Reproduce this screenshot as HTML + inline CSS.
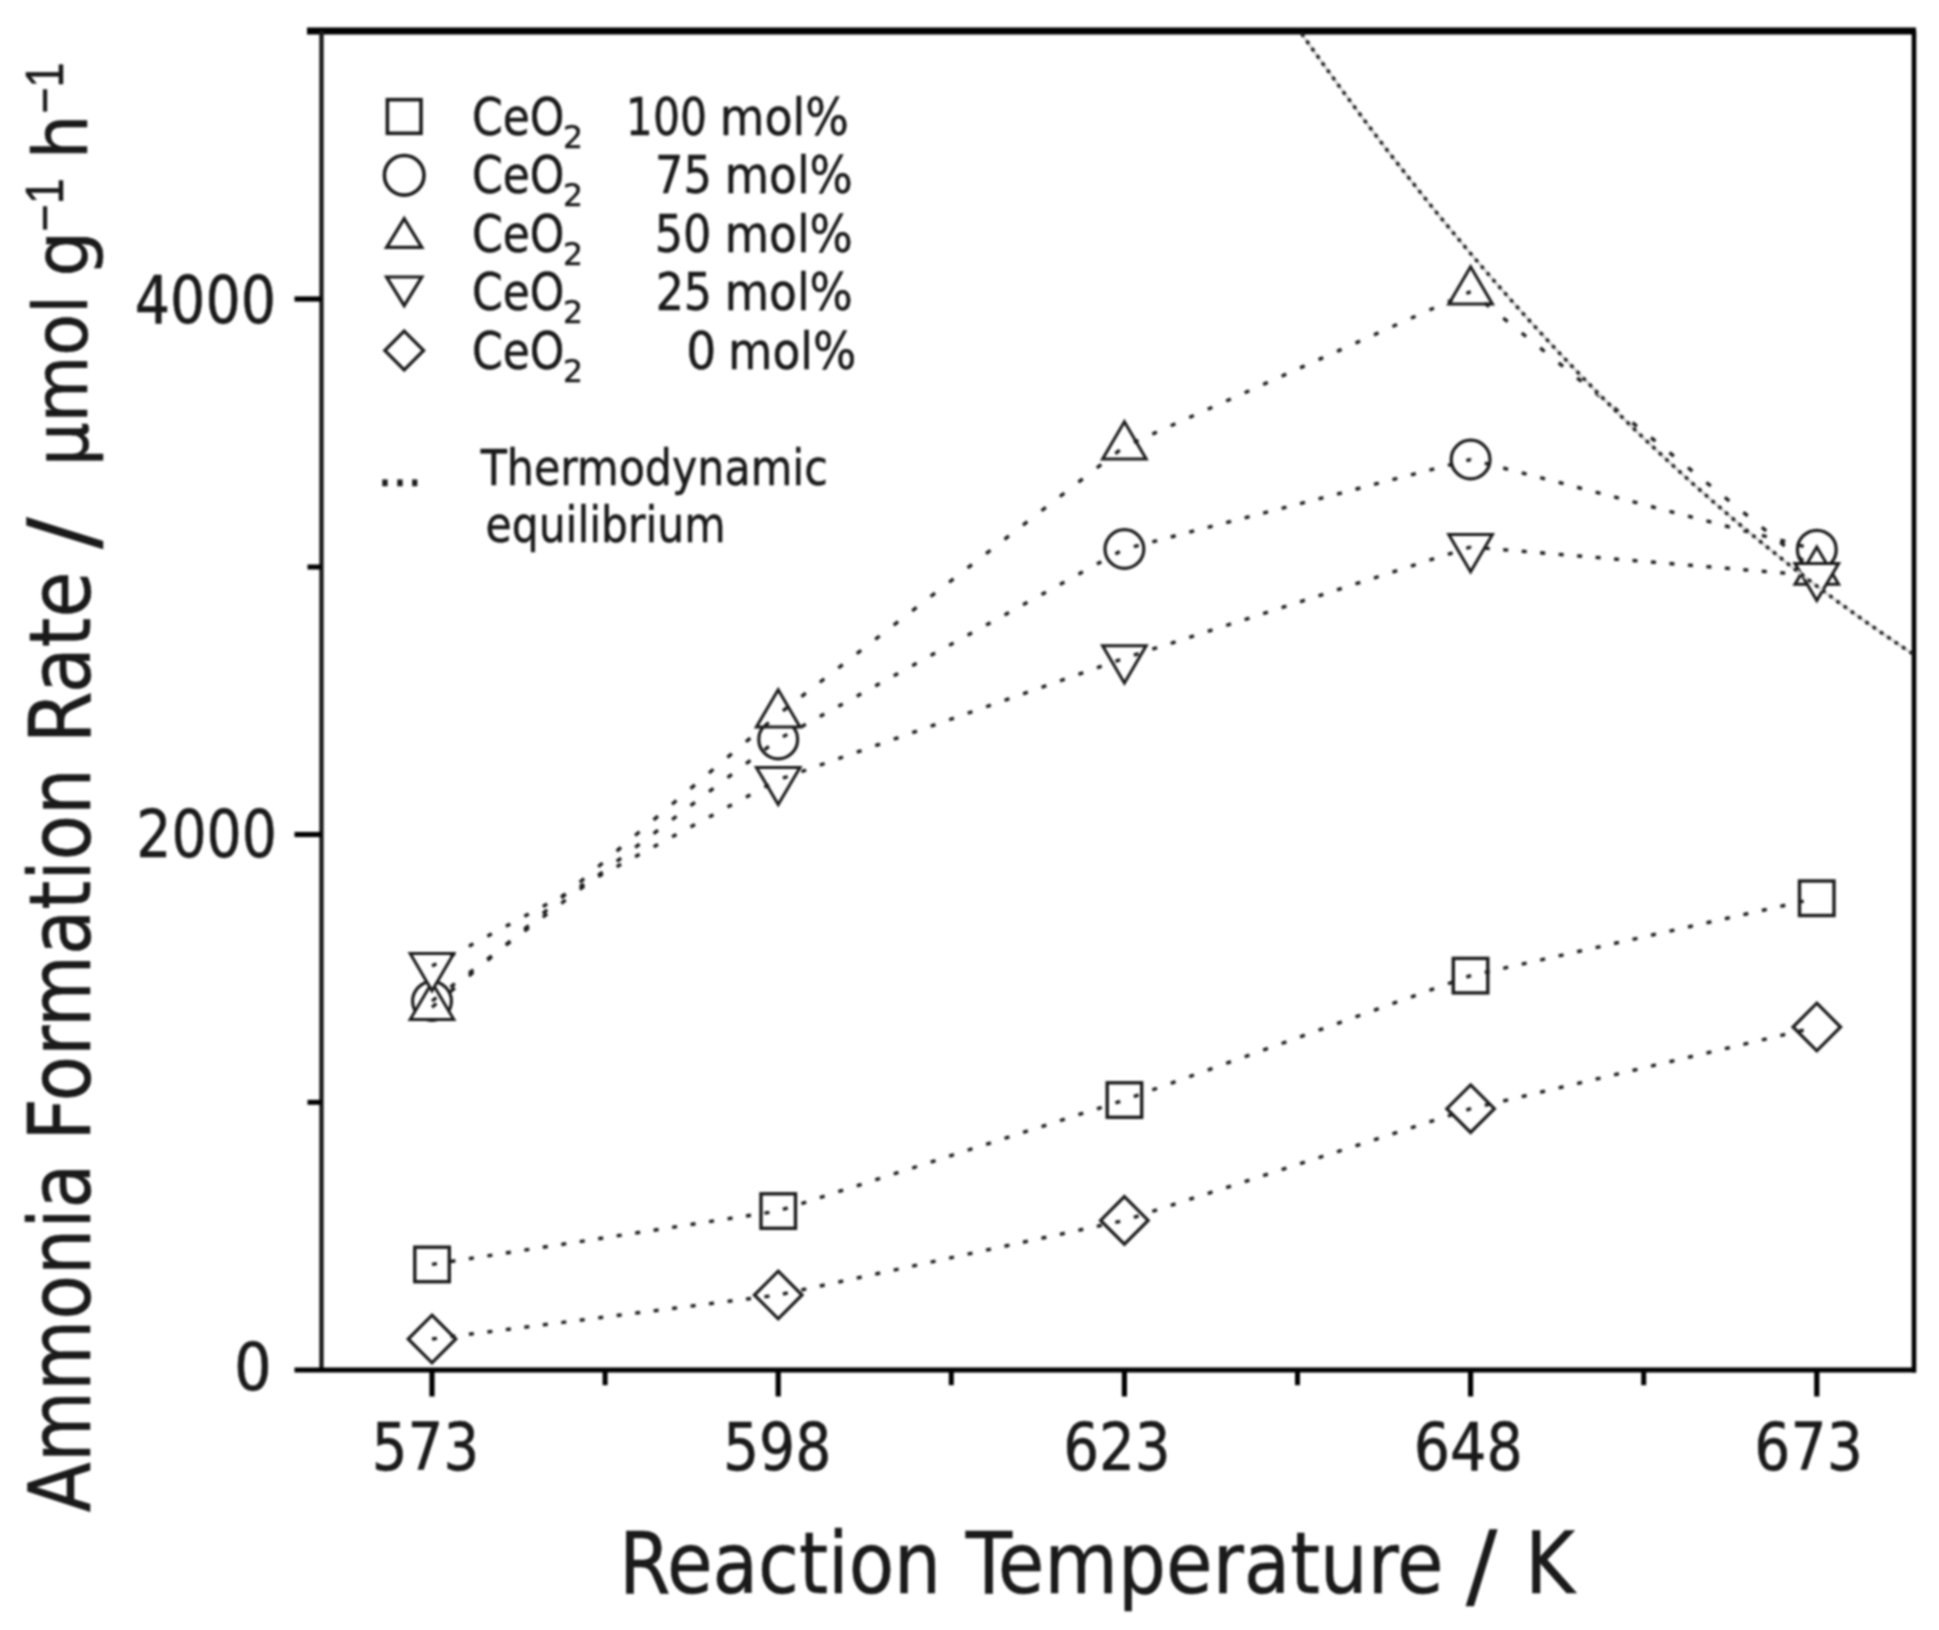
<!DOCTYPE html>
<html lang="en"><head><meta charset="utf-8"><title>Ammonia formation rate vs reaction temperature</title><style>html,body{margin:0;padding:0;background:#fff}svg{display:block;filter:blur(1px)}</style></head><body>
<svg width="1939" height="1630" viewBox="0 0 1939 1630">
<rect x="0" y="0" width="1939" height="1630" fill="#fff"/>
<g stroke="#1a1a1a" fill="none" stroke-linecap="butt">
<line x1="307" y1="31.0" x2="1916" y2="31.0" stroke-width="7" stroke="#000"/>
<line x1="321.5" y1="31.0" x2="321.5" y2="1372.0" stroke-width="4.4"/>
<line x1="1914.0" y1="31.0" x2="1914.0" y2="1372.4" stroke-width="4.6" stroke="#000"/>
<line x1="294.5" y1="1370.0" x2="1916" y2="1370.0" stroke-width="5" stroke="#000"/>
<line x1="294.5" y1="299.0" x2="321.5" y2="299.0" stroke-width="5.2" stroke="#000"/>
<line x1="294.5" y1="834.5" x2="321.5" y2="834.5" stroke-width="5.2" stroke="#000"/>
<line x1="307.5" y1="567.0" x2="321.5" y2="567.0" stroke-width="5" stroke="#000"/>
<line x1="307.5" y1="1102.3" x2="321.5" y2="1102.3" stroke-width="5" stroke="#000"/>
<line x1="432.0" y1="1370.0" x2="432.0" y2="1396.5" stroke-width="5.2" stroke="#000"/>
<line x1="778.2" y1="1370.0" x2="778.2" y2="1396.5" stroke-width="5.2" stroke="#000"/>
<line x1="1124.4" y1="1370.0" x2="1124.4" y2="1396.5" stroke-width="5.2" stroke="#000"/>
<line x1="1470.6" y1="1370.0" x2="1470.6" y2="1396.5" stroke-width="5.2" stroke="#000"/>
<line x1="1816.8" y1="1370.0" x2="1816.8" y2="1396.5" stroke-width="5.2" stroke="#000"/>
<line x1="605.1" y1="1370.0" x2="605.1" y2="1385.2" stroke-width="5" stroke="#000"/>
<line x1="951.3" y1="1370.0" x2="951.3" y2="1385.2" stroke-width="5" stroke="#000"/>
<line x1="1297.5" y1="1370.0" x2="1297.5" y2="1385.2" stroke-width="5" stroke="#000"/>
<line x1="1643.7" y1="1370.0" x2="1643.7" y2="1385.2" stroke-width="5" stroke="#000"/>
</g>
<g fill="#fff" stroke="#1a1a1a" stroke-linejoin="miter">
<rect x="414.8" y="1247.2" width="34.5" height="34.5" stroke-width="3.4"/>
<rect x="761.0" y="1193.8" width="34.5" height="34.5" stroke-width="3.4"/>
<rect x="1107.2" y="1082.8" width="34.5" height="34.5" stroke-width="3.4"/>
<rect x="1453.3" y="958.4" width="34.5" height="34.5" stroke-width="3.4"/>
<rect x="1799.5" y="881.0" width="34.5" height="34.5" stroke-width="3.4"/>
</g>
<g fill="#fff" stroke="#1a1a1a" stroke-linejoin="miter">
<circle cx="432.0" cy="1001.0" r="19.4" stroke-width="3.2"/>
<circle cx="778.2" cy="739.4" r="19.4" stroke-width="3.2"/>
<circle cx="1124.4" cy="549.0" r="19.4" stroke-width="3.2"/>
<circle cx="1470.6" cy="459.5" r="19.4" stroke-width="3.2"/>
<circle cx="1816.8" cy="549.7" r="19.4" stroke-width="3.2"/>
</g>
<g fill="#fff" stroke="#1a1a1a" stroke-linejoin="miter">
<polygon points="432.0,982.4 453.8,1019.6 410.2,1019.6" stroke-width="3.0"/>
<polygon points="778.2,689.7 800.0,726.9 756.4,726.9" stroke-width="3.0"/>
<polygon points="1124.4,421.8 1146.2,459.0 1102.6,459.0" stroke-width="3.0"/>
<polygon points="1470.6,266.8 1492.4,304.0 1448.8,304.0" stroke-width="3.0"/>
<polygon points="1816.8,547.0 1838.6,584.2 1795.0,584.2" stroke-width="3.0"/>
</g>
<g fill="#fff" stroke="#1a1a1a" stroke-linejoin="miter">
<polygon points="410.2,953.6 453.8,953.6 432.0,990.8" stroke-width="3.0"/>
<polygon points="756.4,767.4 800.0,767.4 778.2,804.6" stroke-width="3.0"/>
<polygon points="1102.6,645.8 1146.2,645.8 1124.4,683.0" stroke-width="3.0"/>
<polygon points="1448.8,534.6 1492.4,534.6 1470.6,571.8" stroke-width="3.0"/>
<polygon points="1795.0,563.4 1838.6,563.4 1816.8,600.6" stroke-width="3.0"/>
</g>
<g fill="#fff" stroke="#1a1a1a" stroke-linejoin="miter">
<polygon points="432.0,1315.2 455.8,1339.0 432.0,1362.8 408.2,1339.0" stroke-width="3.2"/>
<polygon points="778.2,1271.2 802.0,1295.0 778.2,1318.8 754.4,1295.0" stroke-width="3.2"/>
<polygon points="1124.4,1196.6 1148.2,1220.4 1124.4,1244.2 1100.6,1220.4" stroke-width="3.2"/>
<polygon points="1470.6,1084.9 1494.4,1108.7 1470.6,1132.5 1446.8,1108.7" stroke-width="3.2"/>
<polygon points="1816.8,1003.2 1840.6,1027.0 1816.8,1050.8 1793.0,1027.0" stroke-width="3.2"/>
</g>
<g fill="none" stroke="#1a1a1a" stroke-width="3.4">
<line x1="432.0" y1="1264.4" x2="778.2" y2="1211.0" stroke-dasharray="5.00 13.69" stroke-dashoffset="0.00"/>
<line x1="778.2" y1="1211.0" x2="1124.4" y2="1100.0" stroke-dasharray="5.00 14.40" stroke-dashoffset="14.43"/>
<line x1="1124.4" y1="1100.0" x2="1470.6" y2="975.6" stroke-dasharray="5.00 14.63" stroke-dashoffset="9.57"/>
<line x1="1470.6" y1="975.6" x2="1816.8" y2="898.2" stroke-dasharray="5.00 13.93" stroke-dashoffset="4.39"/>
<line x1="432.0" y1="1001.0" x2="778.2" y2="739.4" stroke-dasharray="5.51 17.64" stroke-dashoffset="0.00"/>
<line x1="778.2" y1="739.4" x2="1124.4" y2="549.0" stroke-dasharray="5.02 16.06" stroke-dashoffset="15.68"/>
<line x1="1124.4" y1="549.0" x2="1470.6" y2="459.5" stroke-dasharray="5.00 14.08" stroke-dashoffset="9.31"/>
<line x1="1470.6" y1="459.5" x2="1816.8" y2="549.7" stroke-dasharray="5.00 14.09" stroke-dashoffset="4.42"/>
<line x1="432.0" y1="1007.2" x2="778.2" y2="714.5" stroke-dasharray="5.76 18.42" stroke-dashoffset="0.00"/>
<line x1="778.2" y1="714.5" x2="1124.4" y2="446.6" stroke-dasharray="5.56 17.79" stroke-dashoffset="17.37"/>
<line x1="1124.4" y1="446.6" x2="1470.6" y2="291.6" stroke-dasharray="5.00 15.24" stroke-dashoffset="9.87"/>
<line x1="1470.6" y1="291.6" x2="1816.8" y2="571.8" stroke-dasharray="5.66 18.10" stroke-dashoffset="5.51"/>
<line x1="432.0" y1="966.0" x2="778.2" y2="779.8" stroke-dasharray="5.00 15.97" stroke-dashoffset="0.00"/>
<line x1="778.2" y1="779.8" x2="1124.4" y2="658.2" stroke-dasharray="5.00 14.58" stroke-dashoffset="14.56"/>
<line x1="1124.4" y1="658.2" x2="1470.6" y2="547.0" stroke-dasharray="5.00 14.40" stroke-dashoffset="9.46"/>
<line x1="1470.6" y1="547.0" x2="1816.8" y2="575.8" stroke-dasharray="5.00 13.53" stroke-dashoffset="4.29"/>
<line x1="432.0" y1="1339.0" x2="778.2" y2="1295.0" stroke-dasharray="5.00 13.62" stroke-dashoffset="0.00"/>
<line x1="778.2" y1="1295.0" x2="1124.4" y2="1220.4" stroke-dasharray="5.00 13.89" stroke-dashoffset="14.06"/>
<line x1="1124.4" y1="1220.4" x2="1470.6" y2="1108.7" stroke-dasharray="5.00 14.41" stroke-dashoffset="9.47"/>
<line x1="1470.6" y1="1108.7" x2="1816.8" y2="1027.0" stroke-dasharray="5.00 13.98" stroke-dashoffset="4.40"/>
</g>
<path d="M1301.5,33.6 L1311.9,48.2 L1322.2,62.7 L1332.6,77.1 L1342.9,91.3 L1353.3,105.3 L1363.6,119.2 L1374.0,132.9 L1384.3,146.5 L1394.7,159.9 L1405.1,173.1 L1415.4,186.2 L1425.8,199.2 L1436.1,212.0 L1446.5,224.6 L1456.8,237.1 L1467.2,249.5 L1477.6,261.7 L1487.9,273.7 L1498.3,285.6 L1508.6,297.4 L1519.0,309.0 L1529.3,320.5 L1539.7,331.8 L1550.0,343.0 L1560.4,354.1 L1570.8,365.0 L1581.1,375.8 L1591.5,386.5 L1601.8,397.0 L1612.2,407.3 L1622.5,417.6 L1632.9,427.7 L1643.2,437.7 L1653.6,447.5 L1664.0,457.2 L1674.3,466.8 L1684.7,476.3 L1695.0,485.6 L1705.4,494.8 L1715.7,503.9 L1726.1,512.8 L1736.4,521.7 L1746.8,530.4 L1757.2,538.9 L1767.5,547.4 L1777.9,555.7 L1788.2,564.0 L1798.6,572.1 L1808.9,580.1 L1819.3,587.9 L1829.7,595.7 L1840.0,603.3 L1850.4,610.8 L1860.7,618.2 L1871.1,625.5 L1881.4,632.7 L1891.8,639.8 L1902.1,646.8 L1912.5,653.6" fill="none" stroke="#d6d6d6" stroke-width="2.6"/>
<path d="M1301.5,33.6 L1311.9,48.2 L1322.2,62.7 L1332.6,77.1 L1342.9,91.3 L1353.3,105.3 L1363.6,119.2 L1374.0,132.9 L1384.3,146.5 L1394.7,159.9 L1405.1,173.1 L1415.4,186.2 L1425.8,199.2 L1436.1,212.0 L1446.5,224.6 L1456.8,237.1 L1467.2,249.5 L1477.6,261.7 L1487.9,273.7 L1498.3,285.6 L1508.6,297.4 L1519.0,309.0 L1529.3,320.5 L1539.7,331.8 L1550.0,343.0 L1560.4,354.1 L1570.8,365.0 L1581.1,375.8 L1591.5,386.5 L1601.8,397.0 L1612.2,407.3 L1622.5,417.6 L1632.9,427.7 L1643.2,437.7 L1653.6,447.5 L1664.0,457.2 L1674.3,466.8 L1684.7,476.3 L1695.0,485.6 L1705.4,494.8 L1715.7,503.9 L1726.1,512.8 L1736.4,521.7 L1746.8,530.4 L1757.2,538.9 L1767.5,547.4 L1777.9,555.7 L1788.2,564.0 L1798.6,572.1 L1808.9,580.1 L1819.3,587.9 L1829.7,595.7 L1840.0,603.3 L1850.4,610.8 L1860.7,618.2 L1871.1,625.5 L1881.4,632.7 L1891.8,639.8 L1902.1,646.8 L1912.5,653.6" fill="none" stroke="#1a1a1a" stroke-width="3.5" stroke-dasharray="3.7 5.2"/>
<g fill="none" stroke="#1a1a1a" stroke-linejoin="miter">
<rect x="387.4" y="99.7" width="33.6" height="33.6" stroke-width="3.6"/>
<circle cx="404.2" cy="175.3" r="19.8" stroke-width="3.6"/>
<polygon points="404.2,218.6 421.8,247.3 386.59999999999997,247.3" stroke-width="3.2"/>
<polygon points="386.59999999999997,277.0 421.8,277.0 404.2,305.7" stroke-width="3.2"/>
<polygon points="404.2,331.1 423.6,350.5 404.2,369.9 384.8,350.5" stroke-width="3.2"/>
</g>
<g fill="#1a1a1a" stroke="#1a1a1a" stroke-width="0.5">
<text transform="translate(134.80 323.40) scale(0.9347 1)" font-size="66" font-family="&quot;DejaVu Sans Condensed&quot;, &quot;DejaVu Sans&quot;, &quot;Liberation Sans&quot;, sans-serif" font-stretch="condensed">4000</text>
<text transform="translate(136.17 857.00) scale(0.9322 1)" font-size="66" font-family="&quot;DejaVu Sans Condensed&quot;, &quot;DejaVu Sans&quot;, &quot;Liberation Sans&quot;, sans-serif" font-stretch="condensed">2000</text>
<text transform="translate(234.00 1389.80) scale(1.0 1)" font-size="66" font-family="&quot;DejaVu Sans Condensed&quot;, &quot;DejaVu Sans&quot;, &quot;Liberation Sans&quot;, sans-serif" font-stretch="condensed">0</text>
<text transform="translate(371.86 1470.40) scale(0.9471 1)" font-size="66" font-family="&quot;DejaVu Sans Condensed&quot;, &quot;DejaVu Sans&quot;, &quot;Liberation Sans&quot;, sans-serif" font-stretch="condensed">573</text>
<text transform="translate(722.91 1470.40) scale(0.9577 1)" font-size="66" font-family="&quot;DejaVu Sans Condensed&quot;, &quot;DejaVu Sans&quot;, &quot;Liberation Sans&quot;, sans-serif" font-stretch="condensed">598</text>
<text transform="translate(1063.21 1470.40) scale(0.9486 1)" font-size="66" font-family="&quot;DejaVu Sans Condensed&quot;, &quot;DejaVu Sans&quot;, &quot;Liberation Sans&quot;, sans-serif" font-stretch="condensed">623</text>
<text transform="translate(1413.75 1470.40) scale(0.9629 1)" font-size="66" font-family="&quot;DejaVu Sans Condensed&quot;, &quot;DejaVu Sans&quot;, &quot;Liberation Sans&quot;, sans-serif" font-stretch="condensed">648</text>
<text transform="translate(1754.37 1470.40) scale(0.9571 1)" font-size="66" font-family="&quot;DejaVu Sans Condensed&quot;, &quot;DejaVu Sans&quot;, &quot;Liberation Sans&quot;, sans-serif" font-stretch="condensed">673</text>
<text transform="translate(619.00 1593.30) scale(0.9714 1)" font-size="85" font-family="&quot;DejaVu Sans Condensed&quot;, &quot;DejaVu Sans&quot;, &quot;Liberation Sans&quot;, sans-serif" font-stretch="condensed">Reaction</text>
<text transform="translate(965.70 1593.30) scale(0.9902 1)" font-size="85" font-family="&quot;DejaVu Sans Condensed&quot;, &quot;DejaVu Sans&quot;, &quot;Liberation Sans&quot;, sans-serif" font-stretch="condensed">Temperature</text>
<text transform="translate(1466.00 1597.40) scale(1.1071 1)" font-size="93" font-family="&quot;DejaVu Sans Condensed&quot;, &quot;DejaVu Sans&quot;, &quot;Liberation Sans&quot;, sans-serif" font-stretch="condensed">/</text>
<text transform="translate(1525.03 1593.30) scale(0.9955 1)" font-size="85" font-family="&quot;DejaVu Sans Condensed&quot;, &quot;DejaVu Sans&quot;, &quot;Liberation Sans&quot;, sans-serif" font-stretch="condensed">K</text>
<text transform="translate(89.70 1512.26) rotate(-90) scale(0.956 1)" font-size="85" font-family="&quot;DejaVu Sans Condensed&quot;, &quot;DejaVu Sans&quot;, &quot;Liberation Sans&quot;, sans-serif" font-stretch="condensed">Ammonia</text>
<text transform="translate(89.70 1140.77) rotate(-90) scale(0.9667 1)" font-size="85" font-family="&quot;DejaVu Sans Condensed&quot;, &quot;DejaVu Sans&quot;, &quot;Liberation Sans&quot;, sans-serif" font-stretch="condensed">Formation</text>
<text transform="translate(89.70 743.58) rotate(-90) scale(0.9823 1)" font-size="85" font-family="&quot;DejaVu Sans Condensed&quot;, &quot;DejaVu Sans&quot;, &quot;Liberation Sans&quot;, sans-serif" font-stretch="condensed">Rate</text>
<text transform="translate(93.80 549.00) rotate(-90) scale(1.1214 1)" font-size="93" font-family="&quot;DejaVu Sans Condensed&quot;, &quot;DejaVu Sans&quot;, &quot;Liberation Sans&quot;, sans-serif" font-stretch="condensed">/</text>
<text transform="translate(86.60 466.09) rotate(-90) scale(1.0147 1)" font-size="75" font-family="&quot;DejaVu Sans Condensed&quot;, &quot;DejaVu Sans&quot;, &quot;Liberation Sans&quot;, sans-serif" font-stretch="condensed">µmol</text>
<text transform="translate(86.60 276.69) rotate(-90) scale(1.0727 1)" font-size="75" font-family="&quot;DejaVu Sans Condensed&quot;, &quot;DejaVu Sans&quot;, &quot;Liberation Sans&quot;, sans-serif" font-stretch="condensed">g</text>
<text transform="translate(63.30 231.61) rotate(-90) scale(0.8696 1)" font-size="54" font-family="&quot;Liberation Sans&quot;, &quot;DejaVu Sans&quot;, sans-serif">−1</text>
<text transform="translate(86.60 159.37) rotate(-90) scale(1.0452 1)" font-size="75" font-family="&quot;DejaVu Sans Condensed&quot;, &quot;DejaVu Sans&quot;, &quot;Liberation Sans&quot;, sans-serif" font-stretch="condensed">h</text>
<text transform="translate(63.30 113.59) rotate(-90) scale(0.8286 1)" font-size="54" font-family="&quot;Liberation Sans&quot;, &quot;DejaVu Sans&quot;, sans-serif">−1</text>
<text transform="translate(480.70 485.00) scale(0.9418 1)" font-size="50.5" font-family="&quot;DejaVu Sans Condensed&quot;, &quot;DejaVu Sans&quot;, &quot;Liberation Sans&quot;, sans-serif" font-stretch="condensed">Thermodynamic</text>
<text transform="translate(485.53 542.40) scale(0.9355 1)" font-size="50.5" font-family="&quot;DejaVu Sans Condensed&quot;, &quot;DejaVu Sans&quot;, &quot;Liberation Sans&quot;, sans-serif" font-stretch="condensed">equilibrium</text>
<text transform="translate(377.55 485.80) scale(1.0303 1)" font-size="50.5" font-family="&quot;DejaVu Sans Condensed&quot;, &quot;DejaVu Sans&quot;, &quot;Liberation Sans&quot;, sans-serif" font-stretch="condensed">...</text>
<text transform="translate(472.08 135.00) scale(0.9398 1)" font-size="52" font-family="&quot;DejaVu Sans Condensed&quot;, &quot;DejaVu Sans&quot;, &quot;Liberation Sans&quot;, sans-serif" font-stretch="condensed">CeO</text>
<text transform="translate(562.98 148.30) scale(1.1077 1)" font-size="31.5" font-family="&quot;DejaVu Sans Condensed&quot;, &quot;DejaVu Sans&quot;, &quot;Liberation Sans&quot;, sans-serif" font-stretch="condensed">2</text>
<text transform="translate(625.86 135.00) scale(0.9086 1)" font-size="52" font-family="&quot;DejaVu Sans Condensed&quot;, &quot;DejaVu Sans&quot;, &quot;Liberation Sans&quot;, sans-serif" font-stretch="condensed">100</text>
<text transform="translate(719.77 135.00) scale(0.9816 1)" font-size="52" font-family="&quot;DejaVu Sans Condensed&quot;, &quot;DejaVu Sans&quot;, &quot;Liberation Sans&quot;, sans-serif" font-stretch="condensed">mol%</text>
<text transform="translate(472.08 193.00) scale(0.9398 1)" font-size="52" font-family="&quot;DejaVu Sans Condensed&quot;, &quot;DejaVu Sans&quot;, &quot;Liberation Sans&quot;, sans-serif" font-stretch="condensed">CeO</text>
<text transform="translate(562.98 206.30) scale(1.1077 1)" font-size="31.5" font-family="&quot;DejaVu Sans Condensed&quot;, &quot;DejaVu Sans&quot;, &quot;Liberation Sans&quot;, sans-serif" font-stretch="condensed">2</text>
<text transform="translate(655.08 193.00) scale(0.9549 1)" font-size="52" font-family="&quot;DejaVu Sans Condensed&quot;, &quot;DejaVu Sans&quot;, &quot;Liberation Sans&quot;, sans-serif" font-stretch="condensed">75</text>
<text transform="translate(724.71 193.00) scale(0.9736 1)" font-size="52" font-family="&quot;DejaVu Sans Condensed&quot;, &quot;DejaVu Sans&quot;, &quot;Liberation Sans&quot;, sans-serif" font-stretch="condensed">mol%</text>
<text transform="translate(472.08 251.80) scale(0.9398 1)" font-size="52" font-family="&quot;DejaVu Sans Condensed&quot;, &quot;DejaVu Sans&quot;, &quot;Liberation Sans&quot;, sans-serif" font-stretch="condensed">CeO</text>
<text transform="translate(562.98 265.10) scale(1.1077 1)" font-size="31.5" font-family="&quot;DejaVu Sans Condensed&quot;, &quot;DejaVu Sans&quot;, &quot;Liberation Sans&quot;, sans-serif" font-stretch="condensed">2</text>
<text transform="translate(654.69 251.80) scale(0.9519 1)" font-size="52" font-family="&quot;DejaVu Sans Condensed&quot;, &quot;DejaVu Sans&quot;, &quot;Liberation Sans&quot;, sans-serif" font-stretch="condensed">50</text>
<text transform="translate(724.71 251.80) scale(0.9736 1)" font-size="52" font-family="&quot;DejaVu Sans Condensed&quot;, &quot;DejaVu Sans&quot;, &quot;Liberation Sans&quot;, sans-serif" font-stretch="condensed">mol%</text>
<text transform="translate(472.08 310.00) scale(0.9398 1)" font-size="52" font-family="&quot;DejaVu Sans Condensed&quot;, &quot;DejaVu Sans&quot;, &quot;Liberation Sans&quot;, sans-serif" font-stretch="condensed">CeO</text>
<text transform="translate(562.98 323.30) scale(1.1077 1)" font-size="31.5" font-family="&quot;DejaVu Sans Condensed&quot;, &quot;DejaVu Sans&quot;, &quot;Liberation Sans&quot;, sans-serif" font-stretch="condensed">2</text>
<text transform="translate(655.66 310.00) scale(0.9481 1)" font-size="52" font-family="&quot;DejaVu Sans Condensed&quot;, &quot;DejaVu Sans&quot;, &quot;Liberation Sans&quot;, sans-serif" font-stretch="condensed">25</text>
<text transform="translate(724.71 310.00) scale(0.9736 1)" font-size="52" font-family="&quot;DejaVu Sans Condensed&quot;, &quot;DejaVu Sans&quot;, &quot;Liberation Sans&quot;, sans-serif" font-stretch="condensed">mol%</text>
<text transform="translate(472.08 368.50) scale(0.9398 1)" font-size="52" font-family="&quot;DejaVu Sans Condensed&quot;, &quot;DejaVu Sans&quot;, &quot;Liberation Sans&quot;, sans-serif" font-stretch="condensed">CeO</text>
<text transform="translate(562.98 381.80) scale(1.1077 1)" font-size="31.5" font-family="&quot;DejaVu Sans Condensed&quot;, &quot;DejaVu Sans&quot;, &quot;Liberation Sans&quot;, sans-serif" font-stretch="condensed">2</text>
<text transform="translate(686.27 368.50) scale(1.0083 1)" font-size="52" font-family="&quot;DejaVu Sans Condensed&quot;, &quot;DejaVu Sans&quot;, &quot;Liberation Sans&quot;, sans-serif" font-stretch="condensed">0</text>
<text transform="translate(728.00 368.50) scale(0.9744 1)" font-size="52" font-family="&quot;DejaVu Sans Condensed&quot;, &quot;DejaVu Sans&quot;, &quot;Liberation Sans&quot;, sans-serif" font-stretch="condensed">mol%</text>
</g>
</svg>
</body></html>
